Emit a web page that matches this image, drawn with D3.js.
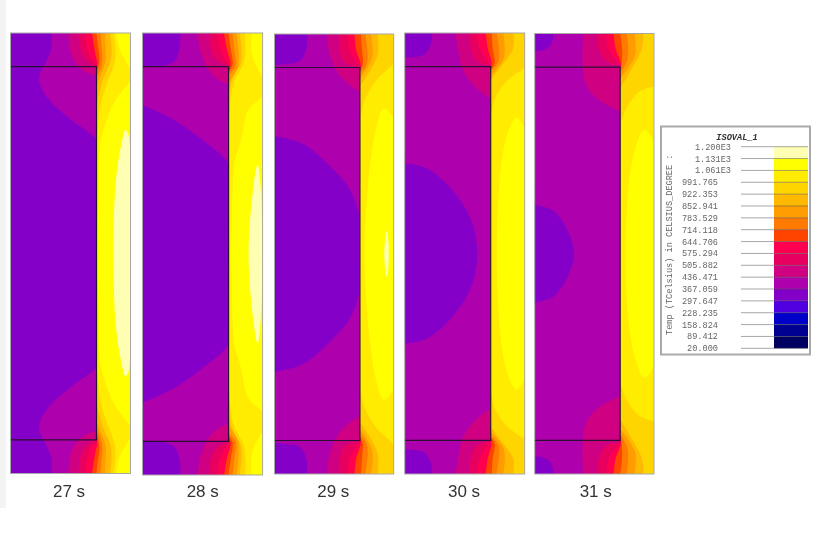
<!DOCTYPE html>
<html>
	<head>
		<meta charset="utf-8">
		<title>Temperature isovalues</title>
		<style>
			body {
				margin: 0;
				background: #fff;
			}

			svg {
				display: block;
			}

			.field {
				filter: blur(0.5px);
			}

			.legend text {
				font-family: 'Liberation Mono', monospace;
				font-size: 8.6px;
				fill: #666;
				filter: blur(0.35px);
			}

			.legend .title {
				font-weight: bold;
				font-style: italic;
				fill: #333;
			}

			.caption {
				font-family: 'Liberation Sans', Arial, sans-serif;
				font-size: 17px;
				fill: #333;
				text-anchor: middle;
				filter: blur(0.3px);
			}
		</style>
	</head>
	<body>
		<svg width="838" height="534"></svg>

		<script src="https://cdn.jsdelivr.net/npm/d3@7"></script>

		<script>
			// contours are [across, depth], from the top face to mid height
			const times = [27, 28, 29, 30, 31];

			const legendLabels = ["1.200E3", "1.131E3", "1.061E3", "991.765", "922.353", "852.941", "783.529", "714.118", "644.706", "575.294", "505.882", "436.471", "367.059", "297.647", "228.235", "158.824", "89.412", "20.000"];

			const legendColors = ["#ffffb4", "#ffff00", "#ffec00", "#ffd500", "#ffb900", "#ff9d00", "#ff7a00", "#ff4400", "#ff0050", "#e80060", "#d00082", "#ae00ac", "#8400c8", "#5000e0", "#0000c8", "#000090", "#000060"];

			// isotherm order, coolest first: everything right of the curve is at least that hot
			const isothermColors = ["#d00082", "#e80060", "#ff0050", "#ff4400", "#ff7a00", "#ff9d00", "#ffb900", "#ffd500", "#ffec00"];

			// a curve that ends on the wall runs straight down it from there to its mirror image
			const isotherms27 = [
				[[58,0],[59,14],[64,28],[74,38],[86,43]],
				[[68,0],[69,12],[73,24],[80,31],[86,35]],
				[[75,0],[76,12],[80,24],[86,32]],
				[[81.5,0],[83,10],[85,22],[87,30],[86,36]],
				[[86,0],[87,10],[89,25],[88,33],[86,39]],
				[[90,0],[91,12],[92,26],[90,36],[86,44]],
				[[94.5,0],[95,12],[95,28],[91,40],[86,52]],
				[[99.5,0],[101,14],[100,28],[93,45],[88,62],[86,75]],
				[[103,0],[105,16],[104,30],[96,52],[90,72],[87,100],[86,130]]
			];
			const isotherms28 = [
				[[55.5,0],[57,15],[67,38],[77,47],[86,51]],
				[[67,0],[68,15],[74,27],[86,33]],
				[[75.5,0],[77,15],[86,32]],
				[[81.5,0],[84,15],[88,31],[86,38]],
				[[86,0],[88,15],[90,32],[86,39]],
				[[90,0],[92,18],[93,33],[86,42]],
				[[94,0],[96,20],[95,35],[86,49]],
				[[97,0],[99,18],[98,30],[90,45],[86,62]],
				[[102,0],[103,15],[101,30],[91,50],[87,77],[86,100]]
			];
			const isotherms29 = [
				[[53,0],[55,18],[62,36],[72,48],[86,58]],
				[[65,0],[65.5,15],[70.5,28],[86,33]],
				[[74,0],[75.5,15],[86,32]],
				[[80.5,0],[82,15],[87,31],[86,36]],
				[[87,0],[88,15],[89,30],[86,37]],
				[[91.5,0],[94,23],[92,32],[86,40]],
				[[97,0],[98.5,23],[86,45]],
				[[104,0],[104,20],[96,37],[86,52]],
				[[120,30],[102,47],[90.5,67],[86,87]]
			];
			const isotherms30 = [
				[[51,0],[53.6,18],[58.6,38],[72,55],[86,65]],
				[[64,0],[66,15],[72,28],[86,33]],
				[[72.6,0],[75,15],[86,32]],
				[[81,0],[83,15],[87,30],[86,35]],
				[[87,0],[88,15],[90,30],[86,37]],
				[[92,0],[94,28],[86,38]],
				[[98.7,0],[99.3,25],[86,42]],
				[[108.6,0],[108.6,15],[95,35],[86,47]],
				[[120,35],[102,48],[90.3,65],[86,85]]
			];
			const isotherms31 = [
				[[48.6,0],[48.6,38],[52,52],[60,63],[70,70],[86,78]],
				[[63,0],[64.6,15],[72,28],[86,32]],
				[[72,0],[74.3,15],[86,31]],
				[[79.3,0],[81.3,15],[87,31],[86,35]],
				[[86,0],[88,18],[87,33],[86,37]],
				[[92.6,0],[93.6,25],[86,40]],
				[[100.3,0],[101,22],[86,45]],
				[[109,0],[108,15],[96,38],[86,55]],
				[[120,53],[105.3,58],[92,75],[86,92]]
			];

			// the coolest zone, corners and core
			const purpleCorner28 = [[38,0],[37,15],[32,28],[19,33],[0,34]];
			const purpleCorner29 = [[33,0],[32,15],[25.5,27],[12,30],[0,31]];
			const purpleCorner30 = [[27.6,0],[26,12],[18.6,22],[0,24.3]];
			const purpleCorner31 = [[18.6,0],[17,10],[8.6,16.6],[0,17.6]];

			// the core edge carries on behind the hot band, so it ends past the wall
			const purpleCore27 = [[41,0],[41,15],[36,28],[29,42],[29.5,52],[39.5,68],[61,87],[86,106],[100,125],[105,220]];
			const purpleCore28 = [[0,72],[29,85],[62,108],[86,130],[100,170],[105,220]];
			const purpleCore29 = [[0,102],[29,110],[55.5,132],[75.5,155],[85.5,182],[89,220]];
			const purpleCore30 = [[0,130],[22,135],[48.6,158],[67,188],[72.6,220]];
			const purpleCore31 = [[0,171],[18.6,177],[33.6,198],[39.6,220]];

			const yellowTop27 = [[106,0],[109,16],[120,36]];
			const yellowTop28 = [[109,0],[109.5,22],[119,42],[120,43]];

			const yellowMain27 = [[120,48],[104.5,68],[94.5,92],[89.5,112],[88,162],[87,220]];
			const yellowMain28 = [[120,64],[105.5,77],[99,104],[95.5,117],[92,128],[89,195],[88,220]];
			const yellowMain29 = [[120,84],[110,74],[102,95],[97,125],[93,165],[90.5,220]];
			const yellowMain30 = [[120,95],[112,84],[103.6,98],[97,128],[93,178],[92,220]];
			const yellowMain31 = [[120,108],[110.3,96],[102,112],[95.3,145],[91.3,220]];

			const cream27 = [[120,220],[120,130],[118,102],[115,97],[110,115],[105,152],[103,220]];
			const cream28 = [[119.5,220],[118.5,160],[115,131],[110,160],[106,220]];
			const cream29 = [[115,220],[114.5,205],[113,197],[111.5,205],[110.5,220]];

			const panels = [
				{ time: 27, isotherms: isotherms27, core: purpleCore27, yellowTop: yellowTop27, yellowMain: yellowMain27, cream: cream27 },
				{ time: 28, isotherms: isotherms28, corner: purpleCorner28, core: purpleCore28, yellowTop: yellowTop28, yellowMain: yellowMain28, cream: cream28 },
				{ time: 29, isotherms: isotherms29, corner: purpleCorner29, core: purpleCore29, yellowMain: yellowMain29, cream: cream29 },
				{ time: 30, isotherms: isotherms30, corner: purpleCorner30, core: purpleCore30, yellowMain: yellowMain30 },
				{ time: 31, isotherms: isotherms31, corner: purpleCorner31, core: purpleCore31, yellowMain: yellowMain31 }
			];

			const WIDTH = 120, MID = 220, WALL = 86, FACE = 33.5;

			const svg = d3.select("svg");

			// the picture has a pale strip down its left side
			svg.append("rect").attr("width", 6).attr("height", 508).attr("fill", "#f3f3f3");

			const panelLeft = d3.scaleOrdinal(times, [10.5, 142.5, 274.5, 404.7, 534.7]);
			const panelRight = d3.scaleOrdinal(times, [130.5, 262.6, 393.7, 524.7, 654]);
			const panelTop = d3.scaleOrdinal(times, [33, 33, 34, 33, 33.5]);
			const panelBottom = d3.scaleOrdinal(times, [473.5, 475, 474, 474, 474]);
			const captionX = d3.scaleOrdinal(times, [69, 202.7, 333.3, 464, 595.7]);

			function drawPanel(panel) {
				const t = panel.time;
				const x = d3.scaleLinear([0, WIDTH], [panelLeft(t), panelRight(t)]);
				const top = panelTop(t), bottom = panelBottom(t), mid = (top + bottom) / 2;
				const yTop = d3.scaleLinear([0, MID], [top, mid]);
				const yBottom = d3.scaleLinear([0, MID], [bottom, mid]);

				const open = d3.line().curve(d3.curveCatmullRom.alpha(0.5));
				const closed = d3.line().curve(d3.curveCatmullRomClosed.alpha(0.5));

				const upperHalf = pts => pts.map(p => [x(p[0]), yTop(p[1])]);
				const lowerHalf = pts => pts.filter(p => p[1] !== MID).reverse().map(p => [x(p[0]), yBottom(p[1])]);

				// one half curve, then the lower half coming back up the other way
				const outline = pts => upperHalf(pts).concat(lowerHalf(pts));

				const halves = pts => {
					const last = pts[pts.length - 1];
					if (last[0] === WALL && last[1] !== MID) {
						return open(upperHalf(pts)) + open(lowerHalf(pts)).replace("M", "L");
					}
					return open(outline(pts));
				};

				const rightRegion = pts => {
					const tail = pts[0][1] === 0 ? `L${x(WIDTH + 5)},${bottom}L${x(WIDTH + 5)},${top}Z` : "Z";
					return halves(pts) + tail;
				};
				const leftRegion = pts => open(outline(pts)) + `L${x(-5)},${bottom}L${x(-5)},${top}Z`;

				const cornerPair = (pts, cx) => [yTop, yBottom].map(y =>
					open(pts.map(p => [x(p[0]), y(p[1])])) + `L${x(cx)},${y(0)}Z`);

				const id = `clip-${t}`;
				svg.append("clipPath").attr("id", id).append("rect")
					.attr("x", x(0)).attr("y", top)
					.attr("width", x(WIDTH) - x(0)).attr("height", bottom - top);

				const g = svg.append("g").attr("class", "field");
				const field = g.append("g").attr("clip-path", `url(#${id})`);

				const addPath = (d, fill) => field.append("path").attr("d", d).attr("fill", fill);

				// t=27 has purple joined up the left side, later ones are magenta with purple islands
				field.append("rect")
					.attr("x", x(0)).attr("y", top)
					.attr("width", x(WIDTH) - x(0)).attr("height", bottom - top)
					.attr("fill", "#ae00ac");

				addPath(leftRegion(panel.core), "#8400c8");
				if (panel.corner) cornerPair(panel.corner, 0).forEach(d => addPath(d, "#8400c8"));

				panel.isotherms.forEach((pts, i) => addPath(rightRegion(pts), isothermColors[i]));

				if (panel.yellowTop) cornerPair(panel.yellowTop, WIDTH).forEach(d => addPath(d, "#ffff00"));
				addPath(rightRegion(panel.yellowMain), "#ffff00");
				if (panel.cream) addPath(closed(outline(panel.cream)), "#ffffb4");

				// the box and the frame
				const box = d3.path();
				box.moveTo(x(0), yTop(FACE));
				box.lineTo(x(WALL), yTop(FACE));
				box.lineTo(x(WALL), yBottom(FACE));
				box.lineTo(x(0), yBottom(FACE));
				g.append("path").attr("d", box.toString())
					.attr("fill", "none").attr("stroke", "#2a1030").attr("stroke-width", 1.2);

				g.append("rect")
					.attr("x", x(0)).attr("y", top)
					.attr("width", x(WIDTH) - x(0)).attr("height", bottom - top)
					.attr("fill", "none").attr("stroke", "#a8a8a8").attr("stroke-width", 1);

				svg.append("text").attr("class", "caption")
					.attr("x", captionX(t)).attr("y", 497)
					.text(`${t} s`);
			}

			function drawLegend() {
				const g = svg.append("g").attr("class", "legend");

				g.append("rect")
					.attr("x", 661).attr("y", 126.5)
					.attr("width", 149).attr("height", 228)
					.attr("fill", "#fff").attr("stroke", "#aaa").attr("stroke-width", 2);

				const y = d3.scalePoint(legendLabels, [146.7, 348.3]);

				g.append("text").attr("class", "title")
					.attr("x", 737).attr("y", 140)
					.attr("text-anchor", "middle")
					.text("ISOVAL_1");

				g.selectAll(".band").data(legendColors).join("rect")
					.attr("class", "band")
					.attr("x", 774).attr("width", 34)
					.attr("y", (d, i) => y(legendLabels[i]))
					.attr("height", (d, i) => y(legendLabels[i + 1]) - y(legendLabels[i]))
					.attr("fill", d => d);

				g.selectAll(".tick").data(legendLabels).join("line")
					.attr("class", "tick")
					.attr("x1", 741).attr("x2", 808)
					.attr("y1", d => y(d)).attr("y2", d => y(d))
					.attr("stroke", "#555").attr("stroke-opacity", 0.65).attr("stroke-width", 0.8);

				g.selectAll(".label").data(legendLabels).join("text")
					.attr("class", "label")
					.attr("x", d => d.endsWith("E3") ? 731 : 718)
					.attr("y", d => y(d) + 3)
					.attr("text-anchor", "end")
					.text(d => d);

				g.append("text")
					.attr("transform", "translate(672,335) rotate(-90)")
					.text("Temp (TCelsius) in CELSIUS_DEGREE :");
			}

			panels.forEach(drawPanel);
			drawLegend();
		</script>
	</body>
</html>
